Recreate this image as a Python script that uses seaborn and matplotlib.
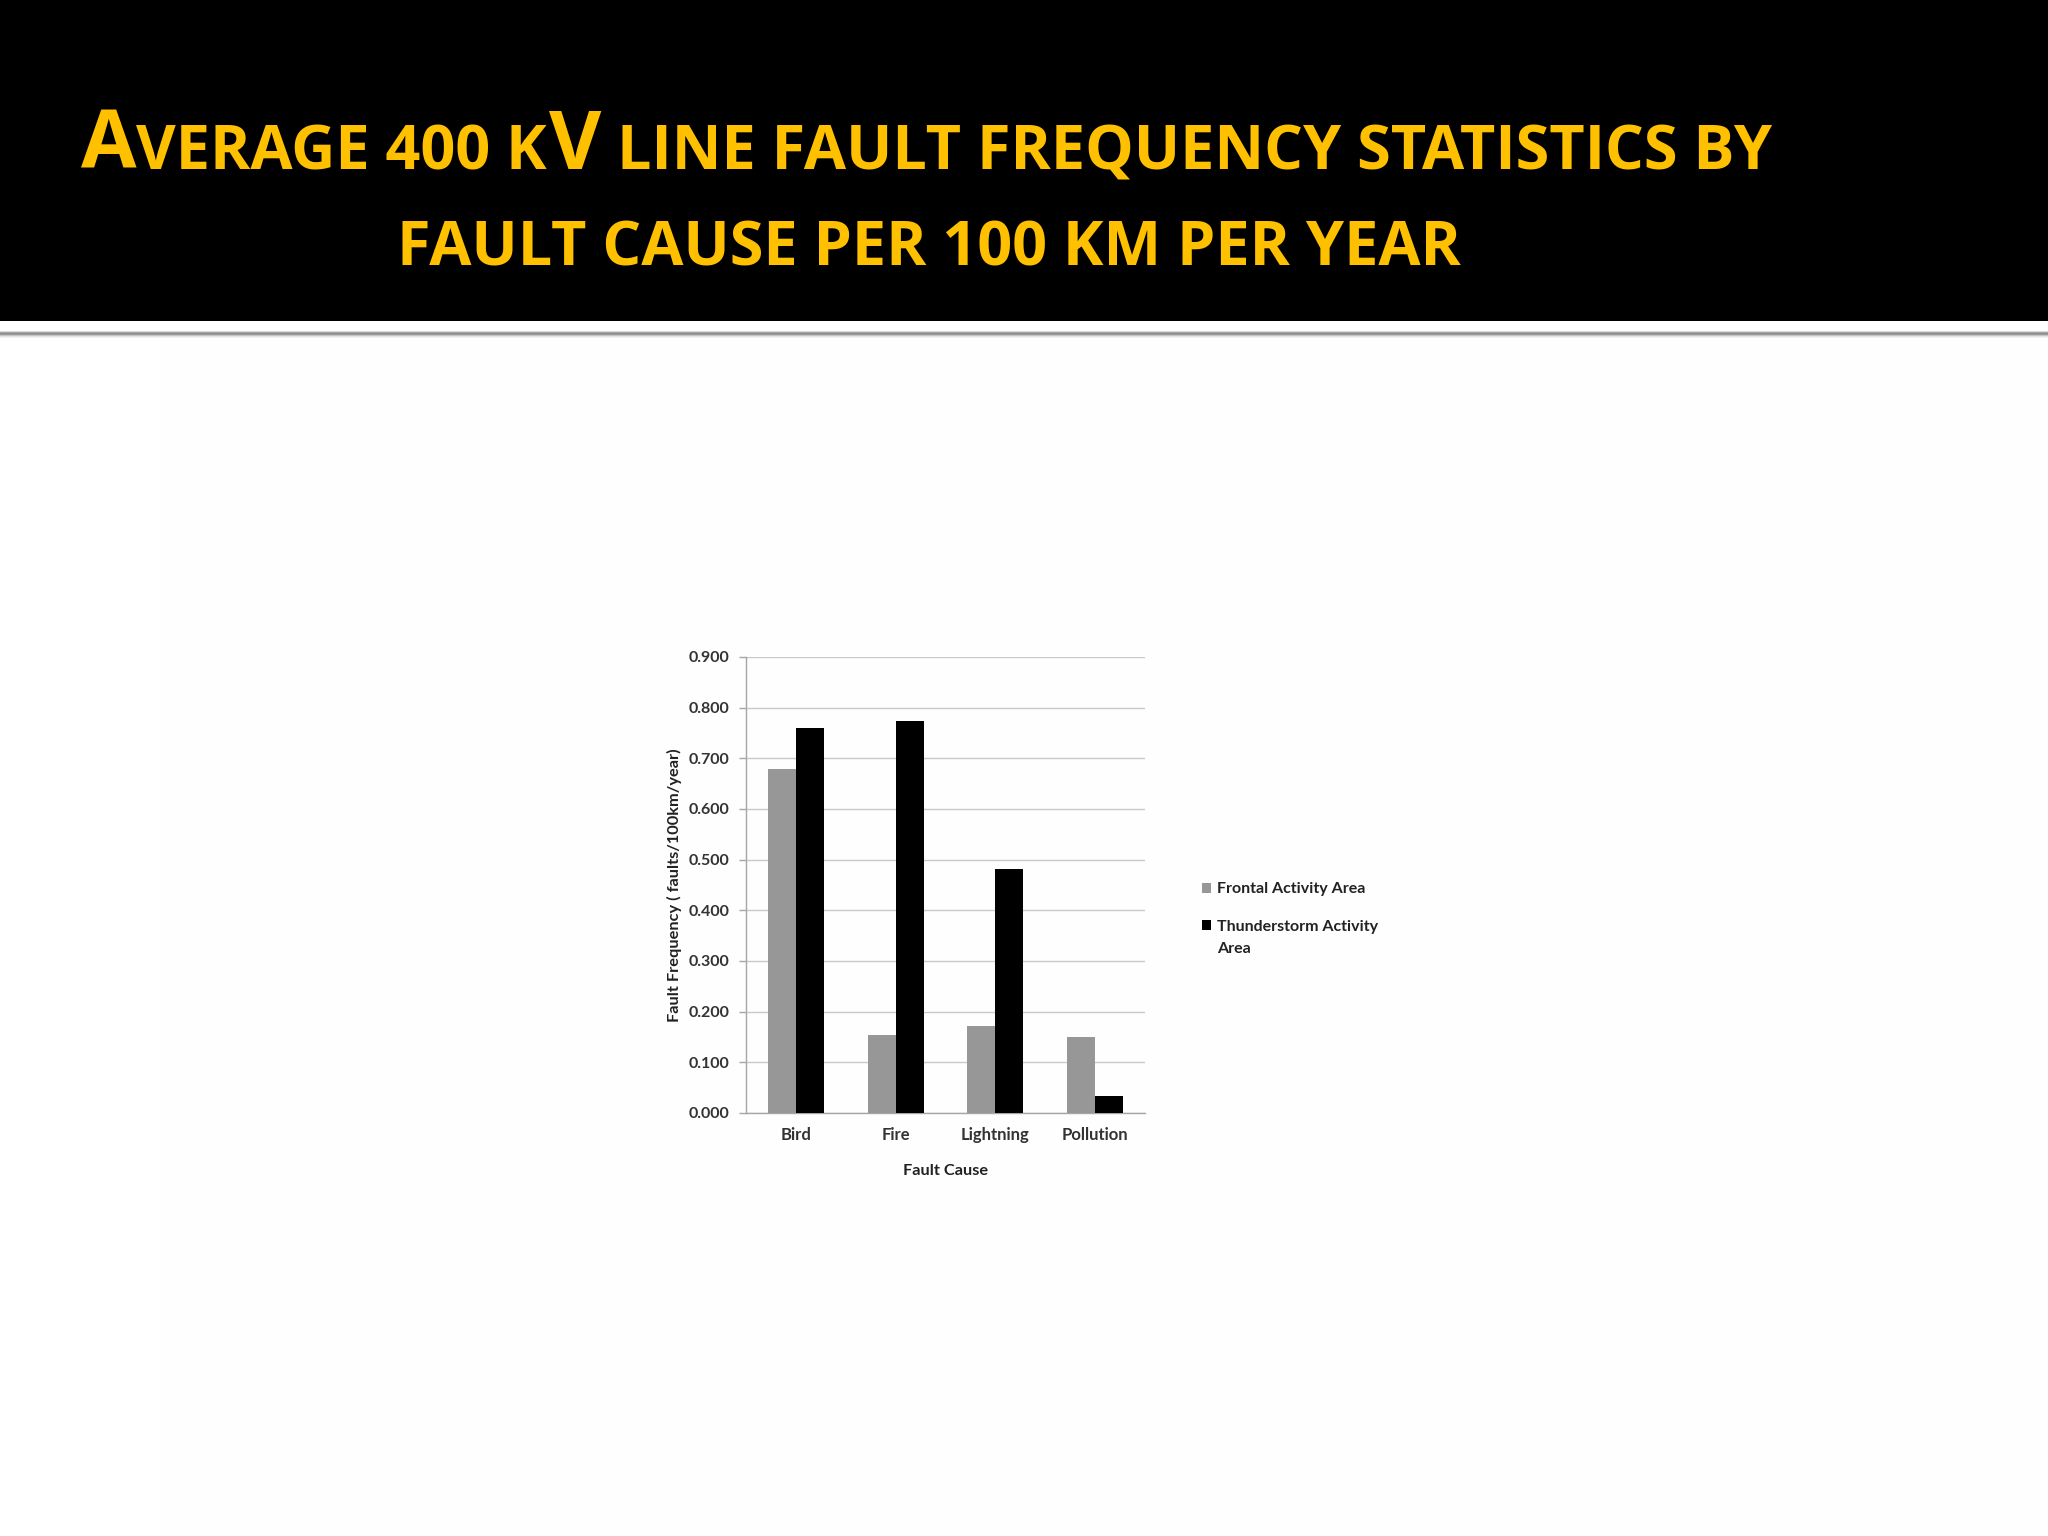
import matplotlib
matplotlib.use("Agg")
import matplotlib.pyplot as plt
from matplotlib.patches import Rectangle
import seaborn as sns
import pandas as pd

# ---- data ----
causes = ["Bird", "Fire", "Lightning", "Pollution"]
series_names = ["Frontal Activity Area", "Thunderstorm Activity Area"]
legend_lines = ["Frontal Activity Area", "Thunderstorm Activity", "Area"]
frontal = [0.678, 0.154, 0.171, 0.150]
thunder = [0.760, 0.773, 0.481, 0.034]
yticks = [0.0, 0.1, 0.2, 0.3, 0.4, 0.5, 0.6, 0.7, 0.8, 0.9]
title_line1 = [("A", "big"), ("VERAGE 400 K", "small"), ("V", "big"),
               ("LINE FAULT FREQUENCY STATISTICS BY", "small")]
title_line2 = "FAULT CAUSE PER 100 KM PER YEAR"
y_label = "Fault Frequency ( faults/100km/year)"
x_label = "Fault Cause"

df = pd.DataFrame({
    "cause": causes * 2,
    "value": frontal + thunder,
    "series": [series_names[0]] * 4 + [series_names[1]] * 4,
})

sns.set_theme(style="white")
plt.rcParams["font.family"] = ["Lato", "DejaVu Sans"]

W, H = 2048, 1536
fig = plt.figure(figsize=(W / 100, H / 100), dpi=100)
fig.patch.set_facecolor("#FFFFFF")

def fx(x):
    return x / W

def fy(y):
    return 1 - y / H

# faint background panel
fig.patches.append(Rectangle((fx(160), 0), 1 - fx(160), fy(340), transform=fig.transFigure,
                             facecolor="#FEFEFE", edgecolor="none", zorder=-5))
# header band
fig.patches.append(Rectangle((0, fy(321)), 1, 321 / H, transform=fig.transFigure,
                             facecolor="#000000", edgecolor="none", zorder=-4))
# separator line with soft shadow
for yy, c in [(331, "#D8D8D8"), (332, "#A8A8A8"), (333, "#8C8C8C"), (334, "#9C9C9C"),
              (335, "#C4C4C4"), (336, "#E4E4E4"), (337, "#F2F2F2")]:
    fig.patches.append(Rectangle((0, fy(yy + 1)), 1, 1 / H, transform=fig.transFigure,
                                 facecolor=c, edgecolor="none", zorder=-4))

# ---- chart ----
ax_left, ax_right, ax_top, ax_bottom = 746, 1145, 657, 1113
ax = fig.add_axes([fx(ax_left), fy(ax_bottom), (ax_right - ax_left) / W, (ax_bottom - ax_top) / H])
ax.set_zorder(5)
ax.set_facecolor("none")
sns.barplot(data=df, x="cause", y="value", hue="series",
            palette=["#979797", "#000000"], width=0.56, saturation=1,
            linewidth=0, ax=ax, zorder=3)
ax.set_ylim(0, 0.9)
ax.set_xlim(-0.5, 3.5)
ax.set_yticks(yticks)
ax.set_yticklabels([f"{v:.3f}" for v in yticks])
ax.yaxis.grid(True, color="#C9C9C9", linewidth=1.0, zorder=0)
ax.set_axisbelow(True)
for s in ["top", "right"]:
    ax.spines[s].set_visible(False)
for s in ["left", "bottom"]:
    ax.spines[s].set_color("#A6A6A6")
    ax.spines[s].set_linewidth(1.0)
ax.set_xticks([-0.5, 0.5, 1.5, 2.5, 3.5], minor=True)
ax.tick_params(axis="x", which="major", length=0, pad=10, labelsize=12, labelcolor="#333333")
ax.tick_params(axis="x", which="minor", length=5, color="#A6A6A6", width=1)
ax.tick_params(axis="y", which="major", left=True, length=5, color="#A6A6A6", width=1,
               pad=7, labelsize=11.5, labelcolor="#333333")
for lab in ax.get_xticklabels() + ax.get_yticklabels():
    lab.set_fontweight("bold")
ax.set_ylabel(y_label, fontsize=11.8, fontweight="bold", color="#222222")
ax.set_xlabel(x_label, fontsize=11.8, fontweight="bold", color="#222222")
ax.yaxis.set_label_coords(-0.16, 0.5)
ax.xaxis.set_label_coords(0.5, -0.112)

handles, _ = ax.get_legend_handles_labels()
leg = ax.legend(handles, legend_lines[:2], loc="upper left",
                bbox_to_anchor=(fx(1188), fy(868)),
                bbox_transform=fig.transFigure, frameon=False,
                handlelength=0.55, handleheight=0.55, handletextpad=0.35,
                labelspacing=1.45, prop={"family": "Lato", "size": 11.5, "weight": "bold"})
for t in leg.get_texts():
    t.set_color("#222222")

fig.canvas.draw()
renderer = fig.canvas.get_renderer()
bb2 = leg.get_texts()[1].get_window_extent(renderer)
fig.text(bb2.x0 / W, (bb2.y0 - 22) / H, legend_lines[2], fontsize=11.5, fontweight="bold",
         family="Lato", color="#222222", ha="left", va="bottom", zorder=6)

# ---- title ----
gold = "#FFC000"
tfont = ["Open Sans", "DejaVu Sans"]
sizes = {"big": 58, "small": 44}

def draw_runs(runs, x0, ybase, gaps):
    x = x0
    for (txt, kind), gap in zip(runs, gaps):
        x += gap
        t = fig.text(fx(x), fy(ybase), txt, fontsize=sizes[kind], color=gold,
                     fontweight="bold", family=tfont, va="baseline", ha="left", zorder=5)
        x += t.get_window_extent(renderer).width
    return x

space = 0.26 * sizes["small"] * 100 / 72
draw_runs(title_line1, 81, 169, [0, 0, 2, space])
fig.text(fx(397), fy(265), title_line2, fontsize=sizes["small"], color=gold,
         fontweight="bold", family=tfont, va="baseline", ha="left", zorder=5)

fig.savefig("out.png", dpi=100, facecolor=fig.get_facecolor())
